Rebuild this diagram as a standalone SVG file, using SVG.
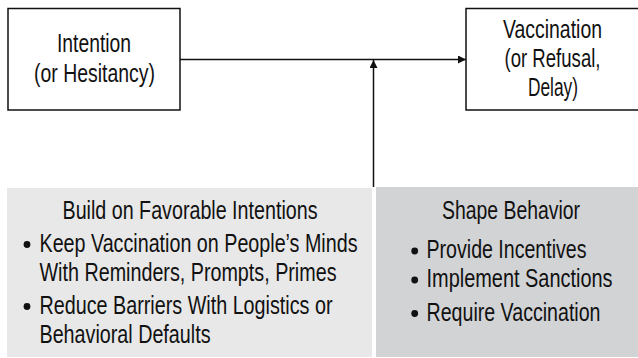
<svg xmlns="http://www.w3.org/2000/svg" width="638" height="358" viewBox="0 0 638 358">
  <style>
    .box { fill: #ffffff; stroke: #111111; stroke-width: 1.5; }
    .t { font-family: "Liberation Sans", Arial, sans-serif; font-size: 25px; fill: #111111; }
    .c { text-anchor: middle; }
    .conn { stroke: #111111; stroke-width: 1.5; fill: none; }
    .dot { fill: #111111; }
  </style>
  <defs>
    <marker id="arrow" viewBox="0 0 10 10" refX="10" refY="5" markerWidth="9" markerHeight="8" markerUnits="userSpaceOnUse" orient="auto">
      <path d="M0,0 L10,5 L0,10 z" fill="#111111"/>
    </marker>
  </defs>
  <rect width="638" height="358" fill="#ffffff"/>

  <g id="intention">
    <rect class="box" x="8" y="8.5" width="172" height="101.5"/>
    <text class="t c" x="94" y="52" textLength="74" lengthAdjust="spacingAndGlyphs">Intention</text>
    <text class="t c" x="94.5" y="82" textLength="121" lengthAdjust="spacingAndGlyphs">(or Hesitancy)</text>
  </g>

  <g id="vaccination">
    <rect class="box" x="466" y="8.5" width="190" height="101.5"/>
    <text class="t c" x="552.5" y="38" textLength="99" lengthAdjust="spacingAndGlyphs">Vaccination</text>
    <text class="t c" x="552.5" y="67" textLength="96" lengthAdjust="spacingAndGlyphs">(or Refusal,</text>
    <text class="t c" x="553" y="96" textLength="50" lengthAdjust="spacingAndGlyphs">Delay)</text>
  </g>

  <g id="favorable-intentions">
    <rect x="7" y="188" width="365" height="169" fill="#e8e8e8"/>
    <text class="t c" x="190" y="218.5" textLength="255" lengthAdjust="spacingAndGlyphs">Build on Favorable Intentions</text>
    <circle class="dot" cx="27" cy="244.5" r="3.4"/>
    <text class="t" x="39.5" y="252" textLength="318" lengthAdjust="spacingAndGlyphs">Keep Vaccination on People’s Minds</text>
    <text class="t" x="39.5" y="281" textLength="297" lengthAdjust="spacingAndGlyphs">With Reminders, Prompts, Primes</text>
    <circle class="dot" cx="27" cy="306.5" r="3.4"/>
    <text class="t" x="39.5" y="314" textLength="293" lengthAdjust="spacingAndGlyphs">Reduce Barriers With Logistics or</text>
    <text class="t" x="39.5" y="342.5" textLength="171" lengthAdjust="spacingAndGlyphs">Behavioral Defaults</text>
  </g>

  <g id="shape-behavior">
    <rect x="376" y="187" width="262" height="170" fill="#d2d3d5"/>
    <text class="t c" x="511" y="218.5" textLength="138" lengthAdjust="spacingAndGlyphs">Shape Behavior</text>
    <circle class="dot" cx="414.7" cy="251" r="3.4"/>
    <text class="t" transform="scale(0.85,1)" x="501.8" y="258" textLength="188.2" lengthAdjust="spacingAndGlyphs">Provide Incentives</text>
    <circle class="dot" cx="414.7" cy="280" r="3.4"/>
    <text class="t" transform="scale(0.85,1)" x="501.8" y="287.5" textLength="218.8" lengthAdjust="spacingAndGlyphs">Implement Sanctions</text>
    <circle class="dot" cx="414.7" cy="313.5" r="3.4"/>
    <text class="t" transform="scale(0.85,1)" x="501.8" y="321" textLength="204.7" lengthAdjust="spacingAndGlyphs">Require Vaccination</text>
  </g>

  <g id="connectors">
    <line class="conn" x1="180" y1="59.5" x2="466" y2="59.5" marker-end="url(#arrow)"/>
    <line class="conn" x1="373.5" y1="187" x2="373.5" y2="60" marker-end="url(#arrow)"/>
  </g>
</svg>
